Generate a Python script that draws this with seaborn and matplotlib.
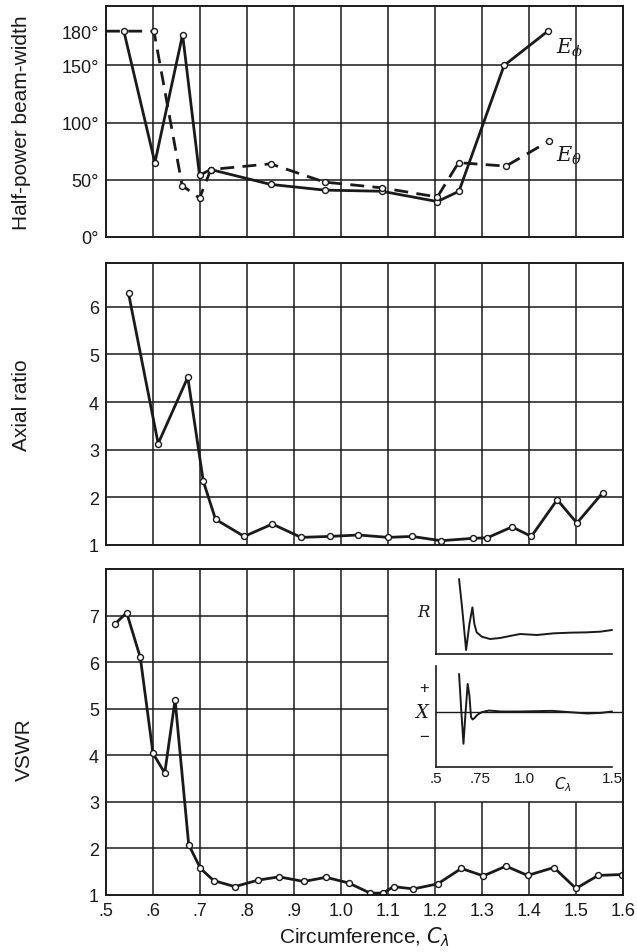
import numpy as np
import pandas as pd
import matplotlib
matplotlib.use("Agg")
import matplotlib.pyplot as plt
import seaborn as sns

# ---- measured data -------------------------------------------------------
# Half-power beam-width (degrees) versus circumference in wavelengths
circ_phi = [0.538, 0.604, 0.663, 0.699, 0.723, 0.850, 0.965, 1.087, 1.205, 1.251, 1.347, 1.440]
hpbw_phi = [180, 65, 177, 54, 59, 46, 41, 40, 31, 40, 150, 180]

circ_theta = [0.500, 0.602, 0.662, 0.699, 0.723, 0.850, 0.965, 1.087, 1.205, 1.250, 1.351, 1.443]
hpbw_theta = [180, 180, 45, 34, 59, 64, 48, 43, 35, 65, 62, 84]

# Axial ratio
circ_ar = [0.548, 0.611, 0.674, 0.707, 0.733, 0.794, 0.854, 0.915, 0.976, 1.037,
           1.100, 1.151, 1.213, 1.280, 1.311, 1.364, 1.405, 1.460, 1.502, 1.557]
axial = [6.28, 3.13, 4.52, 2.34, 1.54, 1.18, 1.44, 1.16, 1.18, 1.21,
         1.16, 1.18, 1.09, 1.14, 1.15, 1.38, 1.18, 1.95, 1.46, 2.10]

# VSWR
circ_vswr = [0.519, 0.544, 0.573, 0.600, 0.625, 0.647, 0.676, 0.701, 0.729, 0.774,
             0.824, 0.868, 0.921, 0.968, 1.016, 1.062, 1.089, 1.112, 1.154, 1.206,
             1.256, 1.303, 1.351, 1.397, 1.453, 1.500, 1.547, 1.598]
vswr = [6.82, 7.06, 6.10, 4.04, 3.62, 5.19, 2.08, 1.57, 1.31, 1.18,
        1.32, 1.39, 1.29, 1.38, 1.26, 1.04, 1.04, 1.18, 1.13, 1.24,
        1.57, 1.41, 1.62, 1.42, 1.59, 1.14, 1.42, 1.44]

# Terminal impedance sketch: resistance R and reactance X (arbitrary units)
imp_r_c = [0.631, 0.650, 0.671, 0.690, 0.707, 0.718, 0.731, 0.760, 0.807, 0.864,
           0.920, 0.978, 1.073, 1.168, 1.263, 1.358, 1.434, 1.500]
imp_r = [225, 130, 12, 90, 140, 90, 65, 52, 45, 48, 54, 60, 57, 62, 64, 65, 67, 72]
imp_x_c = [0.631, 0.643, 0.656, 0.668, 0.680, 0.690, 0.699, 0.708, 0.718, 0.735,
           0.760, 0.800, 0.870, 0.970, 1.160, 1.260, 1.360, 1.440, 1.500]
imp_x = [115, 10, -95, 0, 85, 50, -15, -22, -18, -8, 0, 5, 2, 2, 4, 0, -4, -2, 2]

# axis ticks
x_ticks = [0.5, 0.6, 0.7, 0.8, 0.9, 1.0, 1.1, 1.2, 1.3, 1.4, 1.5, 1.6]
x_labels = [".5", ".6", ".7", ".8", ".9", "1.0", "1.1", "1.2", "1.3", "1.4", "1.5", "1.6"]
hp_ticks = [0, 50, 100, 150, 180]
hp_labels = ["0\u00b0", "50\u00b0", "100\u00b0", "150\u00b0", "180\u00b0"]
hp_grid = [50, 100, 150]
ar_ticks = [1, 2, 3, 4, 5, 6]
vs_ticks = [1, 2, 3, 4, 5, 6, 7]
inset_ticks = [0.5, 0.75, 1.0, 1.5]
inset_labels = [".5", ".75", "1.0", "1.5"]

# ---- style ---------------------------------------------------------------
sns.set_theme(style="white")
plt.rcParams["font.family"] = ["Liberation Sans", "DejaVu Sans"]
plt.rcParams["axes.edgecolor"] = "black"
plt.rcParams["axes.linewidth"] = 1.4

INK = "#1a1a1a"
fig = plt.figure(figsize=(6.37, 9.53), dpi=100)
fig.patch.set_facecolor("white")

L, W = 106 / 637, 517 / 637
ax1 = fig.add_axes([L, 1 - 238 / 953, W, 231 / 953])
ax2 = fig.add_axes([L, 1 - 546 / 953, W, 282 / 953])
ax3 = fig.add_axes([L, 1 - 896 / 953, W, 326 / 953])

grid_kw = dict(color=INK, lw=1.1, zorder=1)
mark_kw = dict(marker="o", markersize=4.3, markerfacecolor="white",
               markeredgecolor=INK, markeredgewidth=1.0)


def frame(ax, ylim, yticks, ylabels):
    ax.set_xlim(0.5, 1.6)
    ax.set_ylim(*ylim)
    ax.set_xticks(x_ticks)
    ax.set_yticks(yticks)
    ax.set_yticklabels(ylabels)
    ax.tick_params(length=0, labelsize=13, colors=INK, pad=5)
    for s in ax.spines.values():
        s.set_color(INK)
        s.set_zorder(5)


# top panel: beam-width
frame(ax1, (0, 202), hp_ticks, hp_labels)
ax1.set_xticklabels([])
for x in x_ticks[1:-1]:
    ax1.axvline(x, **grid_kw)
for y in hp_grid:
    ax1.axhline(y, **grid_kw)
df_phi = pd.DataFrame({"c": circ_phi, "v": hpbw_phi})
df_th = pd.DataFrame({"c": circ_theta, "v": hpbw_theta})
sns.lineplot(data=df_phi, x="c", y="v", ax=ax1, sort=False, color=INK, lw=2.0,
             zorder=3, **mark_kw)
sns.lineplot(data=df_th, x="c", y="v", ax=ax1, sort=False, color=INK, lw=2.0,
             zorder=3, markevery=list(range(1, len(circ_theta))), **mark_kw)
ax1.lines[-1].set_dashes([5, 3])
ax1.set_xlabel("")
ax1.set_ylabel("Half-power beam-width", fontsize=15, color=INK)
ax1.yaxis.set_label_coords(-0.145, 0.5)
ax1.text(1.458, 165, r"$E_\phi$", fontsize=15, color=INK, ha="left", va="center",
         math_fontfamily="dejavuserif")
ax1.text(1.458, 72, r"$E_\theta$", fontsize=15, color=INK, ha="left", va="center",
         math_fontfamily="dejavuserif")

# middle panel: axial ratio
frame(ax2, (1, 6.92), ar_ticks, [str(t) for t in ar_ticks])
ax2.set_xticklabels([])
for x in x_ticks[1:-1]:
    ax2.axvline(x, **grid_kw)
for y in ar_ticks[1:]:
    ax2.axhline(y, **grid_kw)
df_ar = pd.DataFrame({"c": circ_ar, "v": axial})
sns.lineplot(data=df_ar, x="c", y="v", ax=ax2, sort=False, color=INK, lw=2.0,
             zorder=3, **mark_kw)
ax2.set_xlabel("")
ax2.set_ylabel("Axial ratio", fontsize=15, color=INK)
ax2.yaxis.set_label_coords(-0.145, 0.5)

# bottom panel: VSWR with an impedance sketch in the upper right
frame(ax3, (1, 8), vs_ticks, [str(t) for t in vs_ticks])
ax3.set_xticklabels(x_labels)
for x in x_ticks[1:-1]:
    if x <= 1.1:
        ax3.axvline(x, **grid_kw)
    else:
        ax3.vlines(x, 1, 3, **grid_kw)
for y in vs_ticks[1:]:
    if y <= 3:
        ax3.axhline(y, **grid_kw)
    else:
        ax3.hlines(y, 0.5, 1.1, **grid_kw)
df_vs = pd.DataFrame({"c": circ_vswr, "v": vswr})
sns.lineplot(data=df_vs, x="c", y="v", ax=ax3, sort=False, color=INK, lw=2.0,
             zorder=3, **mark_kw)
ax3.set_xlabel(r"Circumference, $C_\lambda$", fontsize=15, color=INK, labelpad=4)
ax3.set_ylabel("VSWR", fontsize=15, color=INK)
ax3.yaxis.set_label_coords(-0.14, 0.45)

IL = 436 / 637
IW = (623 - 436) / 637
axr = fig.add_axes([IL, 1 - 655 / 953, IW, 85 / 953])
axx = fig.add_axes([IL, 1 - 768 / 953, IW, 101 / 953])
for ax in (axr, axx):
    ax.set_facecolor("none")
    ax.set_xlim(0.5, 0.5 + (623 - 436) / 176)
    for side in ("top", "right"):
        ax.spines[side].set_visible(False)
    for side in ("left", "bottom"):
        ax.spines[side].set_color(INK)
        ax.spines[side].set_linewidth(1.2)
    ax.spines["bottom"].set_bounds(0.5, 1.5)
    ax.set_yticks([])
    ax.tick_params(axis="x", direction="in", length=3, width=1.0, colors=INK,
                   labelsize=11, pad=3)

axr.set_ylim(0, 255)
axr.set_xticks(inset_ticks[1:])
axr.set_xticklabels([])
sns.lineplot(x=imp_r_c, y=imp_r, ax=axr, sort=False, color=INK, lw=1.4)
axr.text(-0.035, 0.5, "R", transform=axr.transAxes, fontsize=12, style="italic",
         family="DejaVu Serif", ha="right", va="center", color=INK)

axx.set_ylim(-165, 139)
axx.set_xticks(inset_ticks)
axx.set_xticklabels(inset_labels)
sns.lineplot(x=imp_x_c, y=imp_x, ax=axx, sort=False, color=INK, lw=1.4)
axx.axhline(0, color=INK, lw=1.0, zorder=1)
axx.text(-0.04, 0.79, "+", transform=axx.transAxes, fontsize=12, ha="right",
         va="center", color=INK)
axx.text(-0.04, 0.54, "X", transform=axx.transAxes, fontsize=13, style="italic",
         family="DejaVu Serif", ha="right", va="center", color=INK)
axx.text(-0.04, 0.30, "\u2212", transform=axx.transAxes, fontsize=12, ha="right",
         va="center", color=INK)
axx.text(1.22, -0.07, r"$C_\lambda$", transform=axx.get_xaxis_transform(),
         fontsize=11, ha="center", va="top", color=INK)

fig.savefig("out.png", dpi=100)
